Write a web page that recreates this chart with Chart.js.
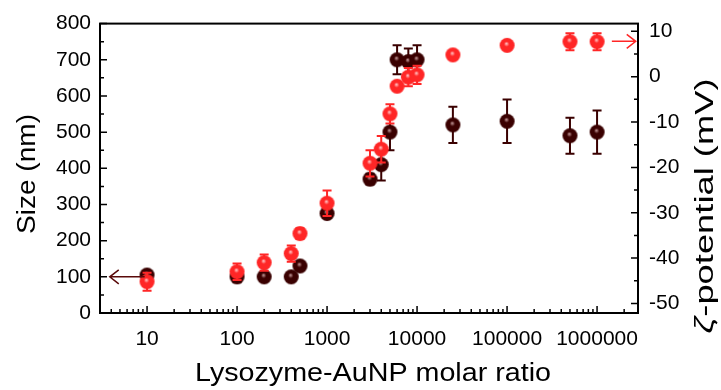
<!DOCTYPE html>
<html>
<head>
<meta charset="utf-8">
<script src="https://cdn.jsdelivr.net/npm/chart.js@4.4.1/dist/chart.umd.min.js"></script>
<style>
  html, body { margin: 0; padding: 0; background: #fff; }
  #wrap { width: 721px; height: 390px; }
</style>
</head>
<body>
<div id="wrap"><canvas id="c" width="721" height="390"></canvas></div>
<script>
// ── data ───────────────────────────────────────
const ratios   = [10, 100, 200, 400, 500, 1000, 3000, 4000, 5000, 6000, 8000, 10000, 25000, 100000, 500000, 1000000];
const sizeNm   = [105, 100, 100, 100, 130, 275, 370, 410, 500, 700, 695, 700, 520, 530, 490, 500];
const sizeErr  = [10, 15, 10, 10, 10, 10, 15, 44, 50, 40, 36, 40, 50, 60, 50, 60];
const zetaMv   = [-45.2, -43.0, -41.0, -39.0, -34.6, -27.9, -19.1, -16.0, -8.2, -2.1, -0.1, 0.4, 4.8, 6.9, 7.7, 7.7];
const zetaErr  = [2.0, 1.8, 1.8, 1.8, 1.2, 2.8, 2.9, 2.9, 2.1, 0.5, 2.0, 2.0, 0.5, 0.5, 1.9, 1.9];

const xMajor   = [10, 100, 1000, 10000, 100000, 1000000];
const yLeftTicks  = [0, 100, 200, 300, 400, 500, 600, 700, 800];
const yRightTicks = [-50, -40, -30, -20, -10, 0, 10];

// arrows showing which axis each series belongs to (data units)
const sizeArrow = { from: 9.4, to: 3.85, y: 100 };
const zetaArrow = { from: 1.46e6, to: 2.69e6, y: 7.8 };

const DARK = '#3a0000';
const RED  = '#ff2626';
const FONT = '"Liberation Sans", Arial, sans-serif';

// shaded ball used as the marker
function makeBall(base, light, r) {
  const c = document.createElement('canvas');
  c.width = c.height = r * 2 + 2;
  const g = c.getContext('2d');
  const cx = r + 1, cy = r + 1;
  const grad = g.createRadialGradient(cx - r * 0.1, cy - r * 0.25, 0, cx, cy, r);
  grad.addColorStop(0, light);
  grad.addColorStop(0.35, base);
  grad.addColorStop(1, base);
  g.fillStyle = grad;
  g.beginPath(); g.arc(cx, cy, r, 0, Math.PI * 2); g.fill();
  return c;
}
const darkBall = makeBall(DARK, '#d0a8a8', 7.5);
const redBall  = makeBall(RED, '#ffd6d6', 7.5);

// minor ticks on the log axis: 1..9 of each decade inside the range
const X_MIN = 3, X_MAX = 2.85e6;
const xAllTicks = [];
for (let d = 1; d <= 1e6; d *= 10)
  for (let m = 1; m <= 9; m++)
    if (m * d >= X_MIN && m * d <= X_MAX) xAllTicks.push(m * d);

// error bars, drawn just before each dataset's points
const errorBars = {
  id: 'errorBars',
  beforeDatasetDraw(chart, args) {
    const ds = chart.data.datasets[args.index];
    const ys = chart.scales[ds.yAxisID];
    const xs = chart.scales.x;
    const ctx = chart.ctx;
    ctx.save();
    ctx.strokeStyle = ds.errColor;
    ctx.lineWidth = 2;
    ds.data.forEach((p, i) => {
      const e = ds.errors[i];
      const px = xs.getPixelForValue(p.x);
      const top = ys.getPixelForValue(p.y + e);
      const bot = ys.getPixelForValue(p.y - e);
      ctx.beginPath();
      ctx.moveTo(px, top); ctx.lineTo(px, bot);
      ctx.moveTo(px - 4.5, top); ctx.lineTo(px + 4.5, top);
      ctx.moveTo(px - 4.5, bot); ctx.lineTo(px + 4.5, bot);
      ctx.stroke();
    });
    ctx.restore();
  }
};

// text stretched to a given length, optionally rotated
function titleText(ctx, parts, cx, cy, len, rot) {
  ctx.save();
  ctx.translate(cx, cy);
  ctx.rotate(rot);
  let w = 0;
  parts.forEach(p => { ctx.font = p.font; p.w = ctx.measureText(p.text).width; w += p.w; });
  ctx.scale(len / w, 1);
  ctx.textAlign = 'left';
  ctx.textBaseline = 'middle';
  ctx.fillStyle = '#000';
  let x = -w / 2;
  parts.forEach(p => { ctx.font = p.font; ctx.fillText(p.text, x, 0); x += p.w; });
  ctx.restore();
}

// frame, inward ticks, arrows and titles
const frame = {
  id: 'frame',
  afterDraw(chart) {
    const { ctx, chartArea: a, scales } = chart;
    ctx.save();
    ctx.strokeStyle = '#000';
    ctx.lineWidth = 2;
    ctx.strokeRect(a.left, a.top, a.right - a.left, a.bottom - a.top);

    ctx.lineWidth = 1.5;
    ctx.beginPath();
    xAllTicks.forEach(v => {
      const px = scales.x.getPixelForValue(v);
      const len = xMajor.includes(v) ? 7 : 4;
      ctx.moveTo(px, a.bottom); ctx.lineTo(px, a.bottom - len);
    });
    for (let v = 0; v <= 800; v += 50) {
      const py = scales.y.getPixelForValue(v);
      const len = v % 100 === 0 ? 7 : 4;
      ctx.moveTo(a.left, py); ctx.lineTo(a.left + len, py);
    }
    for (let v = -50; v <= 10; v += 5) {
      const py = scales.y2.getPixelForValue(v);
      const len = v % 10 === 0 ? 7 : 4;
      ctx.moveTo(a.right, py); ctx.lineTo(a.right - len, py);
    }
    ctx.stroke();

    // arrows
    const arrow = (ar, ys, color) => {
      const x0 = scales.x.getPixelForValue(ar.from);
      const x1 = scales.x.getPixelForValue(ar.to);
      const py = ys.getPixelForValue(ar.y);
      const dir = Math.sign(x1 - x0);
      ctx.strokeStyle = color;
      ctx.lineWidth = 1.5;
      ctx.beginPath();
      ctx.moveTo(x0, py); ctx.lineTo(x1, py);
      ctx.moveTo(x1 - dir * 9, py - 7); ctx.lineTo(x1, py); ctx.lineTo(x1 - dir * 9, py + 7);
      ctx.stroke();
    };
    arrow(sizeArrow, scales.y, '#5a0a0a');
    arrow(zetaArrow, scales.y2, RED);
    ctx.restore();

    const f = '26px ' + FONT;
    titleText(ctx, [{ text: 'Size (nm)', font: f }], 28, 174, 120, -Math.PI / 2);
    titleText(ctx, [{ text: 'ζ', font: 'italic ' + f }, { text: '-potential (mV)', font: f }],
      706, 206, 255, -Math.PI / 2);
    titleText(ctx, [{ text: 'Lysozyme-AuNP molar ratio', font: f }], 373, 374, 356, 0);
  }
};

const toPoints = (ys) => ratios.map((x, i) => ({ x, y: ys[i] }));

new Chart(document.getElementById('c'), {
  type: 'scatter',
  data: {
    datasets: [
      {
        label: 'ζ-potential',
        data: toPoints(zetaMv),
        errors: zetaErr,
        errColor: RED,
        yAxisID: 'y2',
        pointStyle: redBall,
        order: 0
      },
      {
        label: 'Size',
        data: toPoints(sizeNm),
        errors: sizeErr,
        errColor: DARK,
        yAxisID: 'y',
        pointStyle: darkBall,
        order: 1
      }
    ]
  },
  options: {
    responsive: false,
    animation: false,
    devicePixelRatio: 1,
    layout: { padding: { top: 19, left: 0, right: 0, bottom: 0 } },
    plugins: { legend: { display: false }, tooltip: { enabled: false } },
    scales: {
      x: {
        type: 'logarithmic',
        min: X_MIN,
        max: X_MAX,
        afterBuildTicks: s => { s.ticks = xMajor.map(v => ({ value: v })); },
        afterFit: s => { s.height = 77; },
        grid: { display: false, drawTicks: false },
        border: { display: false },
        ticks: {
          autoSkip: false,
          source: 'labels',
          maxRotation: 0,
          padding: 14,
          color: '#000',
          font: { family: FONT, size: 21 },
          callback: v => String(v)
        }
      },
      y: {
        position: 'left',
        min: 0,
        max: 800,
        afterBuildTicks: s => { s.ticks = yLeftTicks.map(v => ({ value: v })); },
        afterFit: s => { s.width = 100; },
        grid: { display: false, drawTicks: false },
        border: { display: false },
        ticks: {
          padding: 9,
          color: '#000',
          font: { family: FONT, size: 21 }
        }
      },
      y2: {
        position: 'right',
        min: -52.1,
        max: 11.7,
        afterBuildTicks: s => { s.ticks = yRightTicks.map(v => ({ value: v })); },
        afterFit: s => { s.width = 83; },
        grid: { display: false, drawTicks: false },
        border: { display: false },
        ticks: {
          padding: 11,
          color: '#000',
          font: { family: FONT, size: 21 }
        }
      }
    }
  },
  plugins: [errorBars, frame]
});
</script>
</body>
</html>
